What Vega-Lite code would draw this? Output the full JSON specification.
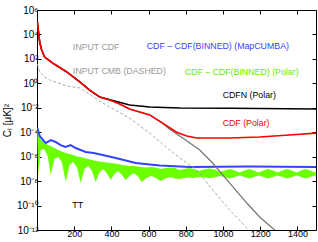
{
  "$schema": "https://vega.github.io/schema/vega-lite/v6.json",
  "width": 279,
  "height": 220,
  "autosize": "none",
  "padding": {"left": 37, "top": 10, "right": 2, "bottom": 12},
  "background": "white",
  "config": {
    "view": {"stroke": "black", "strokeWidth": 1},
    "font": "Liberation Sans",
    "axis": {"grid": false, "domain": false, "tickColor": "black", "tickSize": -4, "labelFont": "Liberation Sans", "labelColor": "black", "labelFontSize": 9, "labelFlush": false, "labelOverlap": false, "title": null}
  },
  "datasets": {
    "curves": [
      {"series": "CDF", "l": 2, "value": 105000}, {"series": "CDF", "l": 14.5, "value": 2400}, {"series": "CDF", "l": 25, "value": 540}, {"series": "CDF", "l": 41, "value": 140}, {"series": "CDF", "l": 84, "value": 46}, {"series": "CDF", "l": 160, "value": 8.5}, {"series": "CDF", "l": 230, "value": 1.3}, {"series": "CDF", "l": 283, "value": 0.28}, {"series": "CDF", "l": 337, "value": 0.076}, {"series": "CDF", "l": 391, "value": 0.044}, {"series": "CDF", "l": 445, "value": 0.02}, {"series": "CDF", "l": 498, "value": 0.0079}, {"series": "CDF", "l": 606, "value": 0.0026}, {"series": "CDF", "l": 676, "value": 5.6e-4}, {"series": "CDF", "l": 751, "value": 1.0e-4}, {"series": "CDF", "l": 805, "value": 4.9e-5}, {"series": "CDF", "l": 859, "value": 3.4e-5}, {"series": "CDF", "l": 1036, "value": 3.4e-5}, {"series": "CDF", "l": 1196, "value": 4.1e-5}, {"series": "CDF", "l": 1357, "value": 5.9e-5}, {"series": "CDF", "l": 1500, "value": 8.5e-5},
      {"series": "CDFN", "l": 2, "value": 105000}, {"series": "CDFN", "l": 14.5, "value": 2400}, {"series": "CDFN", "l": 25, "value": 540}, {"series": "CDFN", "l": 41, "value": 140}, {"series": "CDFN", "l": 84, "value": 46}, {"series": "CDFN", "l": 160, "value": 8.5}, {"series": "CDFN", "l": 230, "value": 1.3}, {"series": "CDFN", "l": 283, "value": 0.28}, {"series": "CDFN", "l": 337, "value": 0.076}, {"series": "CDFN", "l": 418, "value": 0.036}, {"series": "CDFN", "l": 498, "value": 0.017}, {"series": "CDFN", "l": 606, "value": 0.0115}, {"series": "CDFN", "l": 767, "value": 0.0096}, {"series": "CDFN", "l": 1036, "value": 0.0092}, {"series": "CDFN", "l": 1500, "value": 0.0079},
      {"series": "INPUT CDF", "l": 2, "value": 105000}, {"series": "INPUT CDF", "l": 14.5, "value": 2400}, {"series": "INPUT CDF", "l": 25, "value": 540}, {"series": "INPUT CDF", "l": 41, "value": 140}, {"series": "INPUT CDF", "l": 84, "value": 46}, {"series": "INPUT CDF", "l": 160, "value": 8.5}, {"series": "INPUT CDF", "l": 230, "value": 1.3}, {"series": "INPUT CDF", "l": 283, "value": 0.28}, {"series": "INPUT CDF", "l": 337, "value": 0.076}, {"series": "INPUT CDF", "l": 391, "value": 0.044}, {"series": "INPUT CDF", "l": 445, "value": 0.02}, {"series": "INPUT CDF", "l": 498, "value": 0.0079}, {"series": "INPUT CDF", "l": 606, "value": 0.0026}, {"series": "INPUT CDF", "l": 676, "value": 5.1e-4}, {"series": "INPUT CDF", "l": 713, "value": 1.8e-4}, {"series": "INPUT CDF", "l": 783, "value": 3.4e-5}, {"series": "INPUT CDF", "l": 875, "value": 3.5e-6}, {"series": "INPUT CDF", "l": 944, "value": 3.0e-7}, {"series": "INPUT CDF", "l": 1036, "value": 6.9e-9}, {"series": "INPUT CDF", "l": 1128, "value": 1.6e-10}, {"series": "INPUT CDF", "l": 1197, "value": 1.15e-11}, {"series": "INPUT CDF", "l": 1278, "value": 1e-12}, {"series": "INPUT CDF", "l": 1332, "value": 1.5e-13},
      {"series": "INPUT CMB", "l": 2, "value": 38}, {"series": "INPUT CMB", "l": 14.5, "value": 8.5}, {"series": "INPUT CMB", "l": 41, "value": 3.3}, {"series": "INPUT CMB", "l": 68, "value": 1.9}, {"series": "INPUT CMB", "l": 160, "value": 0.6}, {"series": "INPUT CMB", "l": 230, "value": 0.42}, {"series": "INPUT CMB", "l": 283, "value": 0.13}, {"series": "INPUT CMB", "l": 337, "value": 0.036}, {"series": "INPUT CMB", "l": 391, "value": 0.0115}, {"series": "INPUT CMB", "l": 498, "value": 1.45e-3}, {"series": "INPUT CMB", "l": 606, "value": 8.5e-5}, {"series": "INPUT CMB", "l": 713, "value": 3.5e-6}, {"series": "INPUT CMB", "l": 783, "value": 5.4e-7}, {"series": "INPUT CMB", "l": 859, "value": 8.1e-8}, {"series": "INPUT CMB", "l": 944, "value": 1.9e-9}, {"series": "INPUT CMB", "l": 1036, "value": 4.3e-11}, {"series": "INPUT CMB", "l": 1139, "value": 1e-12}, {"series": "INPUT CMB", "l": 1180, "value": 1.5e-13},
      {"series": "MapCUMBA", "l": 2, "value": 2.2e-4}, {"series": "MapCUMBA", "l": 14.5, "value": 4.9e-5}, {"series": "MapCUMBA", "l": 47, "value": 1.3e-5}, {"series": "MapCUMBA", "l": 74, "value": 2.3e-5}, {"series": "MapCUMBA", "l": 100, "value": 1.6e-5}, {"series": "MapCUMBA", "l": 127, "value": 8.9e-6}, {"series": "MapCUMBA", "l": 154, "value": 6.2e-6}, {"series": "MapCUMBA", "l": 181, "value": 8.9e-6}, {"series": "MapCUMBA", "l": 208, "value": 5.1e-6}, {"series": "MapCUMBA", "l": 235, "value": 3.5e-6}, {"series": "MapCUMBA", "l": 262, "value": 2.4e-6}, {"series": "MapCUMBA", "l": 305, "value": 2.0e-6}, {"series": "MapCUMBA", "l": 353, "value": 1.35e-6}, {"series": "MapCUMBA", "l": 423, "value": 7.8e-7}, {"series": "MapCUMBA", "l": 531, "value": 3.0e-7}, {"series": "MapCUMBA", "l": 660, "value": 1.9e-7}, {"series": "MapCUMBA", "l": 821, "value": 1.4e-7}, {"series": "MapCUMBA", "l": 1143, "value": 1.55e-7}, {"series": "MapCUMBA", "l": 1500, "value": 1.4e-7}
    ],
    "green": [
      {"l": 2, "value": 2.2e-4, "low": 2.3e-5}, {"l": 6.5, "value": 1.05e-4, "low": 3.2e-8}, {"l": 19.9, "value": 2.75e-5, "low": 3.5e-6}, {"l": 38.7, "value": 1.58e-5, "low": 4.3e-6}, {"l": 57.5, "value": 8.9e-6, "low": 1.13e-6},
      {"l": 73.7, "value": 7.4e-6, "low": 3.2e-8}, {"l": 93.8, "value": 5.1e-6, "low": 6.4e-7}, {"l": 114, "value": 3.5e-6, "low": 9.3e-7}, {"l": 134.1, "value": 2.6e-6, "low": 3.3e-7},
      {"l": 154.3, "value": 2.0e-6, "low": 8.4e-9}, {"l": 174.5, "value": 1.65e-6, "low": 2.1e-7}, {"l": 194.6, "value": 1.36e-6, "low": 3.6e-7}, {"l": 214.8, "value": 1.03e-6, "low": 1.29e-7},
      {"l": 234.9, "value": 9.3e-7, "low": 6.9e-9}, {"l": 255.1, "value": 7.8e-7, "low": 9.7e-8}, {"l": 275.3, "value": 6.4e-7, "low": 1.7e-7}, {"l": 295.4, "value": 5.3e-7, "low": 6.7e-8},
      {"l": 315.6, "value": 4.4e-7, "low": 8.4e-9}, {"l": 335.7, "value": 4.0e-7, "low": 5.0e-8}, {"l": 355.9, "value": 3.6e-7, "low": 9.7e-8}, {"l": 376.1, "value": 3.3e-7, "low": 4.2e-8},
      {"l": 396.2, "value": 3.0e-7, "low": 1.23e-8}, {"l": 416.4, "value": 2.75e-7, "low": 3.8e-8}, {"l": 436.5, "value": 2.5e-7, "low": 6.7e-8}, {"l": 456.7, "value": 2.1e-7, "low": 3.2e-8},
      {"l": 476.9, "value": 1.88e-7, "low": 1.23e-8}, {"l": 498.4, "value": 1.7e-7, "low": 2.6e-8}, {"l": 519.9, "value": 1.7e-7, "low": 4.6e-8}, {"l": 541.4, "value": 1.56e-7, "low": 2.6e-8},
      {"l": 562.9, "value": 1.4e-7, "low": 8.4e-9}, {"l": 588.4, "value": 1.29e-7, "low": 1.8e-8}, {"l": 613.9, "value": 1.4e-7, "low": 2.6e-8}, {"l": 639.5, "value": 1.29e-7, "low": 1.8e-8},
      {"l": 665, "value": 9.7e-8, "low": 1.02e-8}, {"l": 690.6, "value": 1.17e-7, "low": 1.63e-8}, {"l": 716.1, "value": 1.29e-7, "low": 2.2e-8}, {"l": 741.6, "value": 1.17e-7, "low": 1.63e-8},
      {"l": 767.2, "value": 8.1e-8, "low": 1.48e-8}, {"l": 792.7, "value": 9.7e-8, "low": 1.8e-8}, {"l": 818.2, "value": 1.17e-7, "low": 1.96e-8}, {"l": 843.8, "value": 9.7e-8, "low": 1.8e-8},
      {"l": 869.3, "value": 6.7e-8, "low": 2.2e-8}, {"l": 896.2, "value": 8.9e-8, "low": 1.96e-8}, {"l": 925.8, "value": 1.07e-7, "low": 1.8e-8}, {"l": 955.3, "value": 8.9e-8, "low": 1.96e-8},
      {"l": 982.2, "value": 5.5e-8, "low": 2.6e-8}, {"l": 1009.1, "value": 7.4e-8, "low": 2.2e-8}, {"l": 1036, "value": 9.7e-8, "low": 1.63e-8}, {"l": 1062.8, "value": 7.4e-8, "low": 2.2e-8},
      {"l": 1089.7, "value": 5.0e-8, "low": 2.9e-8}, {"l": 1115.2, "value": 7.4e-8, "low": 2.2e-8}, {"l": 1140.8, "value": 9.7e-8, "low": 1.63e-8}, {"l": 1166.3, "value": 7.4e-8, "low": 2.2e-8},
      {"l": 1191.9, "value": 5.0e-8, "low": 2.9e-8}, {"l": 1217.4, "value": 7.4e-8, "low": 2.2e-8}, {"l": 1242.9, "value": 9.7e-8, "low": 1.63e-8}, {"l": 1268.5, "value": 7.4e-8, "low": 2.2e-8},
      {"l": 1294, "value": 5.0e-8, "low": 2.9e-8}, {"l": 1319.6, "value": 7.4e-8, "low": 2.2e-8}, {"l": 1345.1, "value": 9.7e-8, "low": 1.63e-8}, {"l": 1370.6, "value": 7.4e-8, "low": 2.2e-8},
      {"l": 1396.2, "value": 5.0e-8, "low": 2.9e-8}, {"l": 1420.4, "value": 7.4e-8, "low": 2.2e-8}, {"l": 1444.5, "value": 9.7e-8, "low": 1.63e-8}, {"l": 1468.7, "value": 7.4e-8, "low": 2.2e-8},
      {"l": 1492.9, "value": 5.0e-8, "low": 2.9e-8}, {"l": 1500, "value": 6.0e-8, "low": 2.6e-8}
    ],
    "notes": [
      {"label": "INPUT CDF", "l": 192, "value": 930, "kind": "gray"},
      {"label": "INPUT CMB (DASHED)", "l": 192, "value": 10, "kind": "gray"},
      {"label": "CDF – CDF(BINNED) (MapCUMBA)", "l": 590, "value": 1100, "kind": "blue"},
      {"label": "CDF – CDF(BINNED) (Polar)", "l": 794, "value": 8.5, "kind": "green"},
      {"label": "CDFN (Polar)", "l": 998, "value": 0.11, "kind": "black"},
      {"label": "CDF (Polar)", "l": 998, "value": 5.6e-4, "kind": "red"}
    ],
    "tags": [
      {"label": "TT", "l": 219, "value": 1.1e-10}
    ]
  },
  "layer": [
    {
      "data": {"name": "green"},
      "mark": {"type": "area", "color": "#6cff00", "clip": true, "opacity": 1},
      "encoding": {
        "x": {"field": "l", "type": "quantitative", "scale": {"domain": [0, 1500], "nice": false, "zero": false},
              "axis": {"orient": "bottom", "values": [200, 400, 600, 800, 1000, 1200, 1400], "format": "d", "labelPadding": 3}},
        "y": {"field": "value", "type": "quantitative", "scale": {"type": "log", "domain": [1e-12, 1e6], "nice": false},
              "axis": {"orient": "left", "values": [1e-12, 1e-10, 1e-8, 1e-6, 1e-4, 1e-2, 1, 100, 10000, 1000000],
                       "labelFontSize": 10, "labelPadding": 3,
                       "labelExpr": "'10' + {'6':'⁶','4':'⁴','2':'²','0':'⁰','-2':'⁻²','-4':'⁻⁴','-6':'⁻⁶','-8':'⁻⁸','-10':'⁻¹⁰','-12':'⁻¹²'}['' + round(log(datum.value)/LN10)]",
                       "title": "Cₗ [μK]²", "titleFontSize": 10, "titleFontWeight": "normal", "titleColor": "black", "titleFont": "Liberation Sans",
                       "titleX": -30, "titleY": 110, "titleAlign": "center", "titleBaseline": "middle", "titleAngle": -90}},
        "y2": {"field": "low"}
      }
    },
    {
      "data": {"name": "curves"},
      "transform": [{"filter": "datum.series === 'MapCUMBA'"}],
      "mark": {"type": "line", "color": "#3344ff", "strokeWidth": 2, "clip": true},
      "encoding": {
        "x": {"field": "l", "type": "quantitative", "scale": {"domain": [0, 1500], "nice": false, "zero": false}, "axis": null},
        "y": {"field": "value", "type": "quantitative", "scale": {"type": "log", "domain": [1e-12, 1e6], "nice": false}, "axis": null}
      }
    },
    {
      "data": {"name": "curves"},
      "transform": [{"filter": "datum.series === 'INPUT CMB'"}],
      "mark": {"type": "line", "color": "#a0a0a0", "strokeWidth": 0.9, "strokeDash": [3, 2], "clip": true},
      "encoding": {
        "x": {"field": "l", "type": "quantitative", "scale": {"domain": [0, 1500], "nice": false, "zero": false}, "axis": null},
        "y": {"field": "value", "type": "quantitative", "scale": {"type": "log", "domain": [1e-12, 1e6], "nice": false}, "axis": null}
      }
    },
    {
      "data": {"name": "curves"},
      "transform": [{"filter": "datum.series === 'INPUT CDF'"}],
      "mark": {"type": "line", "color": "#777777", "strokeWidth": 1.3, "clip": true},
      "encoding": {
        "x": {"field": "l", "type": "quantitative", "scale": {"domain": [0, 1500], "nice": false, "zero": false}, "axis": null},
        "y": {"field": "value", "type": "quantitative", "scale": {"type": "log", "domain": [1e-12, 1e6], "nice": false}, "axis": null}
      }
    },
    {
      "data": {"name": "curves"},
      "transform": [{"filter": "datum.series === 'CDFN'"}],
      "mark": {"type": "line", "color": "#000000", "strokeWidth": 1.5, "clip": true},
      "encoding": {
        "x": {"field": "l", "type": "quantitative", "scale": {"domain": [0, 1500], "nice": false, "zero": false},
              "axis": {"orient": "top", "values": [200, 400, 600, 800, 1000, 1200, 1400], "labels": false}},
        "y": {"field": "value", "type": "quantitative", "scale": {"type": "log", "domain": [1e-12, 1e6], "nice": false},
              "axis": {"orient": "right", "values": [1e-12, 1e-10, 1e-8, 1e-6, 1e-4, 1e-2, 1, 100, 10000, 1000000], "labels": false}}
      }
    },
    {
      "data": {"name": "curves"},
      "transform": [{"filter": "datum.series === 'CDF'"}],
      "mark": {"type": "line", "color": "#ff0000", "strokeWidth": 1.6, "clip": true},
      "encoding": {
        "x": {"field": "l", "type": "quantitative", "scale": {"domain": [0, 1500], "nice": false, "zero": false}, "axis": null},
        "y": {"field": "value", "type": "quantitative", "scale": {"type": "log", "domain": [1e-12, 1e6], "nice": false}, "axis": null}
      }
    },
    {
      "data": {"name": "notes"},
      "mark": {"type": "text", "align": "left", "baseline": "middle", "fontSize": 8.8, "font": "Liberation Sans"},
      "encoding": {
        "x": {"field": "l", "type": "quantitative", "scale": {"domain": [0, 1500], "nice": false, "zero": false}, "axis": null},
        "y": {"field": "value", "type": "quantitative", "scale": {"type": "log", "domain": [1e-12, 1e6], "nice": false}, "axis": null},
        "text": {"field": "label"},
        "color": {"field": "kind", "type": "nominal", "legend": null,
                  "scale": {"domain": ["gray", "blue", "green", "black", "red"], "range": ["#999999", "#3344ff", "#66ee00", "#000000", "#ff0000"]}}
      }
    },
    {
      "data": {"name": "tags"},
      "mark": {"type": "text", "align": "center", "baseline": "middle", "fontSize": 9, "font": "Liberation Sans", "color": "#000000"},
      "encoding": {
        "x": {"field": "l", "type": "quantitative", "scale": {"domain": [0, 1500], "nice": false, "zero": false}, "axis": null},
        "y": {"field": "value", "type": "quantitative", "scale": {"type": "log", "domain": [1e-12, 1e6], "nice": false}, "axis": null},
        "text": {"field": "label"}
      }
    }
  ],
  "resolve": {"axis": {"x": "independent", "y": "independent"}}
}
